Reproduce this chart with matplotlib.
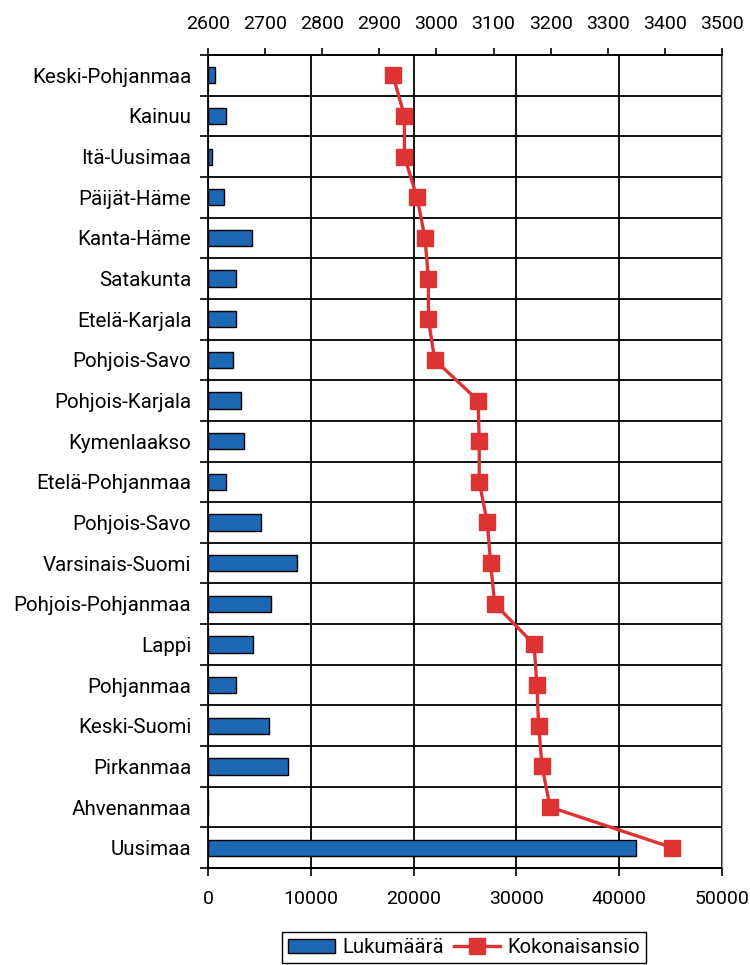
import matplotlib.pyplot as plt
import numpy as np

# Data
regions = ["Keski-Pohjanmaa", "Kainuu", "Itä-Uusimaa", "Päijät-Häme", "Kanta-Häme",
           "Satakunta", "Etelä-Karjala", "Pohjois-Savo", "Pohjois-Karjala", "Kymenlaakso",
           "Etelä-Pohjanmaa", "Pohjois-Savo", "Varsinais-Suomi", "Pohjois-Pohjanmaa", "Lappi",
           "Pohjanmaa", "Keski-Suomi", "Pirkanmaa", "Ahvenanmaa", "Uusimaa"]
lukumaara = [650, 1750, 360, 1590, 4250, 2690, 2690, 2400, 3180, 3470,
             1750, 5190, 8630, 6130, 4410, 2690, 5970, 7830, 0, 41620]
kokonaisansio = [2924, 2944, 2944, 2966, 2980, 2986, 2986, 2997, 3073, 3075,
                 3075, 3089, 3095, 3102, 3171, 3176, 3179, 3185, 3199, 3413]

bar_color = "#1c68b4"
line_color = "#de3333"

plt.rcParams['font.family'] = ['Roboto', 'DejaVu Sans']
fs = 14

fig = plt.figure(figsize=(7.5, 9.65), dpi=100)
ax = fig.add_axes([0.2773, 0.1005, 0.6853, 0.8425])

y = np.arange(len(regions))
bars = ax.barh(y, lukumaara, height=0.4, color=bar_color, edgecolor="black",
               linewidth=1.0, label="Lukumäärä", zorder=3)

ax.set_xlim(0, 50000)
ax.set_xticks(np.arange(0, 50001, 10000))
ax.set_ylim(len(regions) - 0.5, -0.5)
ax.set_yticks(y)
ax.set_yticklabels(regions, fontsize=14.8)
ax.set_yticks(np.arange(-0.5, len(regions), 1), minor=True)
ax.tick_params(axis="y", which="major", length=0, pad=12)
ax.tick_params(axis="y", which="minor", length=6, width=1.2, direction="out")
ax.tick_params(axis="x", which="major", length=6, width=1.2, direction="out",
               labelsize=fs, pad=10)
ax.grid(True, axis="x", which="major", color="black", linewidth=1.3, zorder=0)
ax.grid(True, axis="y", which="minor", color="black", linewidth=1.3, zorder=0)
ax.set_axisbelow(True)
for side in ["left", "bottom", "top"]:
    ax.spines[side].set_linewidth(1.3)
ax.spines["right"].set_color("#999999")

ax2 = ax.twiny()
line, = ax2.plot(kokonaisansio, y, color=line_color, linewidth=2.4, marker="s",
                 markersize=11, label="Kokonaisansio", zorder=4)
ax2.set_xlim(2600, 3500)
ax2.set_xticks(np.arange(2600, 3501, 100))
ax2.tick_params(axis="x", length=5, width=1.2, direction="out", labelsize=fs, pad=11)
ax2.spines["top"].set_linewidth(1.3)
ax2.spines["right"].set_color("#999999")

fig.legend(handles=[bars, line], labels=["Lukumäärä", "Kokonaisansio"],
           loc="upper center", bbox_to_anchor=(0.619, 0.034), ncol=2,
           fontsize=14.6, frameon=True, fancybox=False, edgecolor="black",
           handlelength=2.3, handletextpad=0.35, columnspacing=0.5,
           borderpad=0.3, borderaxespad=0, framealpha=1)

fig.savefig("out.png", dpi=100)
